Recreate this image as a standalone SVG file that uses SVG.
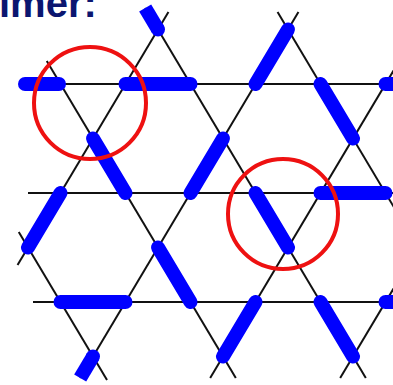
<svg xmlns="http://www.w3.org/2000/svg" width="393" height="385" viewBox="0 0 393 385">
<style>
.ln{stroke:#111;stroke-width:2;fill:none;stroke-linecap:butt}
.dm{stroke:#0000ff;stroke-width:14;stroke-linecap:round;fill:none}
.hd{stroke:#0000ff;stroke-width:14;stroke-linecap:butt;fill:none}
.cap{fill:#0000ff}
.ring{fill:none;stroke:#ee1111;stroke-width:4}
.ttl{font-family:"Liberation Sans",Arial,sans-serif;font-weight:bold;font-size:40px;fill:#0b1670}
</style>
<rect width="393" height="385" fill="#fff"/>
<text class="ttl" x="-1" y="17">imer:</text>
<g id="connectors">
<line class="ln" x1="25" y1="84" x2="400" y2="84"/>
<line class="ln" x1="28" y1="193" x2="400" y2="193"/>
<line class="ln" x1="33" y1="302" x2="400" y2="302"/>
<line class="ln" x1="168.44" y1="12" x2="17.56" y2="265"/>
<line class="ln" x1="298.44" y1="12" x2="80.18" y2="378"/>
<line class="ln" x1="400" y1="59.7" x2="210.18" y2="378"/>
<line class="ln" x1="400" y1="277.8" x2="340.18" y2="378"/>
<line class="ln" x1="145.18" y1="8" x2="365.82" y2="378"/>
<line class="ln" x1="46.78" y1="61" x2="235.82" y2="378"/>
<line class="ln" x1="277.56" y1="12" x2="400" y2="217.4"/>
<line class="ln" x1="18.76" y1="232" x2="107.02" y2="380"/>
</g>
<g id="dimers">
<line class="hd" x1="145.18" y1="8" x2="158" y2="29.5"/><circle class="cap" cx="158" cy="29.5" r="7"/>
<line class="dm" x1="25" y1="84" x2="59" y2="84"/>
<line class="dm" x1="125.5" y1="84" x2="190.5" y2="84"/>
<line class="dm" x1="255.5" y1="84" x2="288" y2="29.5"/>
<line class="dm" x1="320.5" y1="84" x2="353" y2="138.5"/>
<line class="dm" x1="385.5" y1="84" x2="450.5" y2="84"/>
<line class="dm" x1="93" y1="138.5" x2="125.5" y2="193"/>
<line class="dm" x1="60.5" y1="193" x2="28" y2="247.5"/>
<line class="dm" x1="190.5" y1="193" x2="223" y2="138.5"/>
<line class="dm" x1="158" y1="247.5" x2="190.5" y2="302"/>
<line class="dm" x1="255.5" y1="193" x2="288" y2="247.5"/>
<line class="dm" x1="320.5" y1="193" x2="385.5" y2="193"/>
<line class="dm" x1="60.5" y1="302" x2="125.5" y2="302"/>
<line class="hd" x1="93" y1="356.5" x2="80.18" y2="378"/><circle class="cap" cx="93" cy="356.5" r="7"/>
<line class="dm" x1="255.5" y1="302" x2="223" y2="356.5"/>
<line class="dm" x1="320.5" y1="302" x2="353" y2="356.5"/>
<line class="dm" x1="385.5" y1="302" x2="450.5" y2="302"/>
</g>
<g id="circles">
<circle id="ring1" class="ring" cx="90" cy="103" r="56"/>
<circle id="ring2" class="ring" cx="283" cy="214" r="55"/>
</g>
</svg>
